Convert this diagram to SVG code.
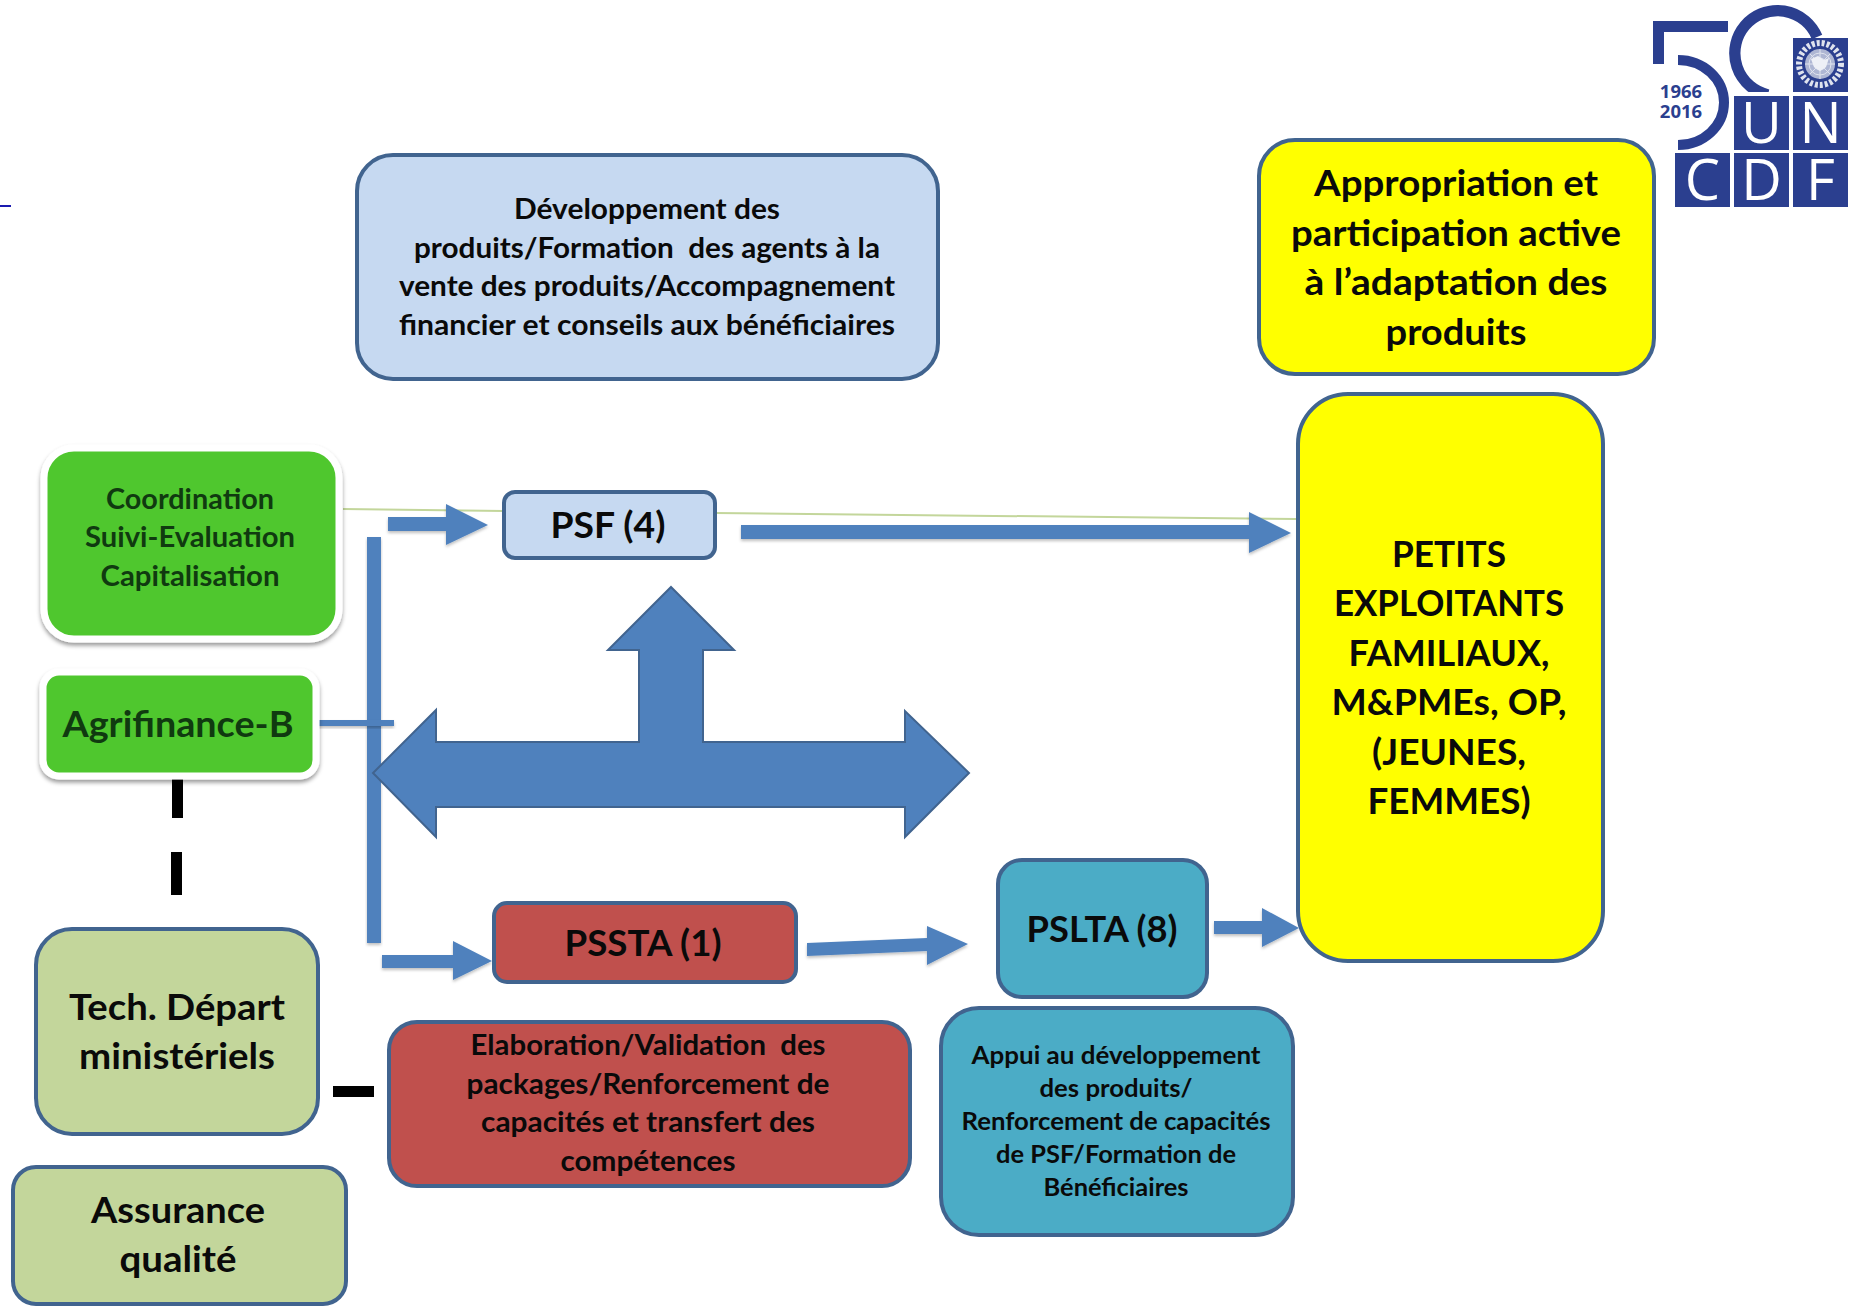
<svg xmlns="http://www.w3.org/2000/svg" width="1855" height="1311" viewBox="0 0 1855 1311">
<style>
text{font-family:"Lato","Carlito","Liberation Sans",sans-serif;font-weight:700;text-anchor:middle;fill:#0a0a0a}
.b{stroke:#41648f;stroke-width:4}
.blue{fill:#c6d9f1}.yel{fill:#ffff00}.grn{fill:#4fc72e;stroke:#fff;stroke-width:7}.red{fill:#c0504d}.teal{fill:#4bacc6}.pale{fill:#c3d69b}
.s28{font-size:28px}.s36{font-size:36px}.s24{font-size:24.5px}
.pre{white-space:pre}
.g text{fill:#103a10}
.arrow{fill:#4f81bd;filter:url(#sh)}
.big{fill:#4f81bd;stroke:#41648f;stroke-width:2}
.dash{fill:#000}
.sq{fill:#2b3f8f}
.lg{fill:#fff;font-family:"Open Sans","Liberation Sans",sans-serif;font-weight:400;font-size:56px}
.yr{fill:#2b3f8f;font-family:"Open Sans","Liberation Sans",sans-serif;font-weight:700;font-size:18.500px}
.em{fill:none;stroke:#dfe3ee}
</style>
<defs>
<filter id="sh" x="-10%" y="-30%" width="120%" height="170%"><feDropShadow dx="0" dy="2" stdDeviation="1.5" flood-color="#000" flood-opacity=".25"/></filter>
<filter id="sh2" x="-10%" y="-10%" width="120%" height="120%"><feDropShadow dx="0" dy="3" stdDeviation="2" flood-color="#000" flood-opacity=".4"/></filter>
<clipPath id="c0"><rect x="1700" y="0" width="155" height="92"/></clipPath>
</defs>
<rect width="1855" height="1311" fill="#fff"/>
<rect id="link-stub" x="0" y="205" width="11" height="2" fill="#1a1ab0"/>

<g id="connectors">
<path d="M343 509L504 511M715 513L1296 519" stroke="#c3d69b" stroke-width="2" fill="none"/>
<rect class="arrow" x="367" y="537" width="14" height="406"/>
<rect class="arrow" x="316" y="720" width="78" height="6"/>
<path class="arrow" d="M388 517H446V504L488 525L446 545V531H388Z"/>
<path class="arrow" d="M741 525H1249V512L1291 533L1249 553V539H741Z"/>
<path class="arrow" d="M382 955H453V941L492 961L453 980V968H382Z"/>
<path class="arrow" d="M807 943L927 938V926L968 944L927 965V951L807 956Z"/>
<path class="arrow" d="M1214 921H1262V908L1299 928L1262 947V934H1214Z"/>
<path class="big" d="M671 587L734 650H703V742H905V711L969 773L905 837V807H436V837L373 773L436 710V742H639V650H608Z"/>
<rect class="dash" x="172" y="775" width="11" height="43"/>
<rect class="dash" x="171" y="852" width="11" height="43"/>
<rect class="dash" x="333" y="1086" width="41" height="11"/>
</g>

<g id="dev-box">
<rect class="b blue" x="357" y="155" width="581" height="224" rx="36"/>
<g class="s28">
<text x="647" y="219" textLength="266" lengthAdjust="spacingAndGlyphs">Développement des</text>
<text class="pre" x="647" y="258" textLength="466" lengthAdjust="spacingAndGlyphs">produits/Formation  des agents à la</text>
<text x="647" y="296" textLength="496" lengthAdjust="spacingAndGlyphs">vente des produits/Accompagnement</text>
<text x="647" y="335" textLength="496" lengthAdjust="spacingAndGlyphs">financier et conseils aux bénéficiaires</text>
</g></g>

<g id="appropriation">
<rect class="b yel" x="1259" y="140" width="395" height="234" rx="36"/>
<g class="s36">
<text x="1456" y="196" textLength="284" lengthAdjust="spacingAndGlyphs">Appropriation et</text>
<text x="1456" y="246" textLength="330" lengthAdjust="spacingAndGlyphs">participation active</text>
<text x="1456" y="295" textLength="303" lengthAdjust="spacingAndGlyphs">à l’adaptation des</text>
<text x="1456" y="345" textLength="141" lengthAdjust="spacingAndGlyphs">produits</text>
</g></g>

<g id="petits-exploitants">
<rect class="b yel" x="1298" y="394" width="305" height="567" rx="50"/>
<g class="s36">
<text x="1449" y="567" textLength="114" lengthAdjust="spacingAndGlyphs">PETITS</text>
<text x="1449" y="616" textLength="230" lengthAdjust="spacingAndGlyphs">EXPLOITANTS</text>
<text x="1449" y="666" textLength="201" lengthAdjust="spacingAndGlyphs">FAMILIAUX,</text>
<text x="1449" y="715" textLength="235" lengthAdjust="spacingAndGlyphs">M&amp;PMEs, OP,</text>
<text x="1449" y="765" textLength="154" lengthAdjust="spacingAndGlyphs">(JEUNES,</text>
<text x="1449" y="814" textLength="163" lengthAdjust="spacingAndGlyphs">FEMMES)</text>
</g></g>

<g id="coordination" class="g">
<rect class="grn" x="44" y="448" width="295" height="191" rx="30" filter="url(#sh2)"/>
<g class="s28">
<text x="190" y="509" textLength="168" lengthAdjust="spacingAndGlyphs">Coordination</text>
<text x="190" y="547" textLength="210" lengthAdjust="spacingAndGlyphs">Suivi-Evaluation</text>
<text x="190" y="586" textLength="179" lengthAdjust="spacingAndGlyphs">Capitalisation</text>
</g></g>

<g id="agrifinance" class="g">
<rect class="grn" x="43" y="672" width="273" height="104" rx="16" filter="url(#sh2)"/>
<text class="s36" x="178" y="737" textLength="231" lengthAdjust="spacingAndGlyphs">Agrifinance-B</text>
</g>

<g id="psf">
<rect class="b blue" x="504" y="492" width="211" height="66" rx="11"/>
<text class="s36" x="608" y="538" textLength="115" lengthAdjust="spacingAndGlyphs">PSF (4)</text>
</g>

<g id="pssta">
<rect class="b red" x="494" y="903" width="302" height="79" rx="13"/>
<text class="s36" x="643" y="956" textLength="157" lengthAdjust="spacingAndGlyphs">PSSTA (1)</text>
</g>

<g id="pslta">
<rect class="b teal" x="998" y="860" width="209" height="137" rx="24"/>
<text class="s36" x="1102" y="942" textLength="151" lengthAdjust="spacingAndGlyphs">PSLTA (8)</text>
</g>

<g id="tech-depart">
<rect class="b pale" x="36" y="929" width="282" height="205" rx="36"/>
<g class="s36">
<text x="177" y="1020" textLength="216" lengthAdjust="spacingAndGlyphs">Tech. Départ</text>
<text x="177" y="1069" textLength="196" lengthAdjust="spacingAndGlyphs">ministériels</text>
</g></g>

<g id="assurance">
<rect class="b pale" x="13" y="1167" width="333" height="137" rx="23"/>
<g class="s36">
<text x="178" y="1223" textLength="174" lengthAdjust="spacingAndGlyphs">Assurance</text>
<text x="178" y="1272" textLength="117" lengthAdjust="spacingAndGlyphs">qualité</text>
</g></g>

<g id="elaboration">
<rect class="b red" x="389" y="1022" width="521" height="164" rx="28"/>
<g class="s28">
<text class="pre" x="648" y="1055" textLength="355" lengthAdjust="spacingAndGlyphs">Elaboration/Validation  des</text>
<text x="648" y="1094" textLength="363" lengthAdjust="spacingAndGlyphs">packages/Renforcement de</text>
<text x="648" y="1132" textLength="334" lengthAdjust="spacingAndGlyphs">capacités et transfert des</text>
<text x="648" y="1171" textLength="175" lengthAdjust="spacingAndGlyphs">compétences</text>
</g></g>

<g id="appui">
<rect class="b teal" x="941" y="1008" width="352" height="227" rx="38"/>
<g class="s24">
<text x="1116" y="1064" textLength="289" lengthAdjust="spacingAndGlyphs">Appui au développement</text>
<text x="1116" y="1097" textLength="153" lengthAdjust="spacingAndGlyphs">des produits/</text>
<text x="1116" y="1130" textLength="309" lengthAdjust="spacingAndGlyphs">Renforcement de capacités</text>
<text x="1116" y="1163" textLength="240" lengthAdjust="spacingAndGlyphs">de PSF/Formation de</text>
<text x="1116" y="1196" textLength="145" lengthAdjust="spacingAndGlyphs">Bénéficiaires</text>
</g></g>

<g id="logo">
<path d="M1728 26.500H1658.500V64" fill="none" stroke="#2b3f8f" stroke-width="11"/>
<path d="M1678 60A46 42.500 0 0 1 1678 145" fill="none" stroke="#2b3f8f" stroke-width="10"/>
<path d="M1817 37A42.700 42.700 0 1 0 1768 94.900" fill="none" stroke="#2b3f8f" stroke-width="11.300" clip-path="url(#c0)"/>
<rect class="sq" x="1793" y="38" width="55" height="54"/>
<rect class="sq" x="1793" y="96" width="55" height="54"/>
<rect class="sq" x="1734" y="96" width="55" height="54"/>
<rect class="sq" x="1675" y="153" width="55" height="54"/>
<rect class="sq" x="1734" y="153" width="55" height="54"/>
<rect class="sq" x="1793" y="153" width="55" height="54"/>
<circle cx="1820" cy="64" r="15" fill="#aeb6d3"/>
<circle class="em" cx="1820" cy="64" r="21" stroke-width="6" stroke-dasharray="3 2"/>
<circle class="em" cx="1820" cy="64" r="11" stroke-width="1"/>
<circle class="em" cx="1820" cy="64" r="6" stroke-width="1"/>
<path class="em" d="M1805 64H1835M1820 49V79M1810 54L1830 74M1830 54L1810 74" stroke-width="1"/>
<path d="M1811 59L1818 56L1824 60L1829 58L1826 67L1820 71L1814 67Z" fill="#eef0f6"/>
<text class="lg" x="1761.500" y="143">U</text>
<text class="lg" x="1820.500" y="143">N</text>
<text class="lg" x="1702.500" y="200">C</text>
<text class="lg" x="1761.500" y="200">D</text>
<text class="lg" x="1820.500" y="200">F</text>
<text class="yr" x="1681" y="98">1966</text>
<text class="yr" x="1681" y="118">2016</text>
</g>
</svg>
